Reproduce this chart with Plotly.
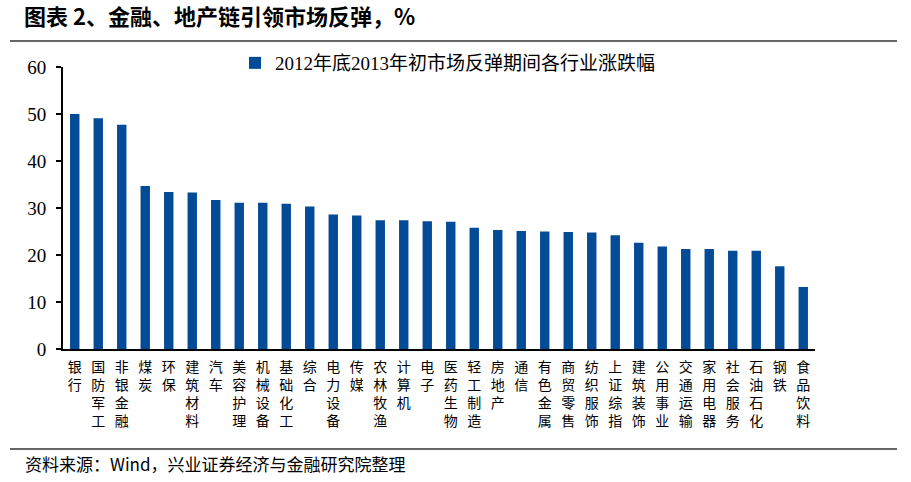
import plotly.graph_objects as go

categories = ["银行", "国防军工", "非银金融", "煤炭", "环保", "建筑材料", "汽车", "美容护理",
              "机械设备", "基础化工", "综合", "电力设备", "传媒", "农林牧渔", "计算机", "电子",
              "医药生物", "轻工制造", "房地产", "通信", "有色金属", "商贸零售", "纺织服饰", "上证综指",
              "建筑装饰", "公用事业", "交通运输", "家用电器", "社会服务", "石油石化", "钢铁", "食品饮料"]
values = [50.0, 49.1, 47.7, 34.7, 33.4, 33.3, 31.7, 31.1,
          31.1, 30.9, 30.3, 28.6, 28.4, 27.4, 27.4, 27.2,
          27.1, 25.8, 25.3, 25.1, 25.0, 24.9, 24.8, 24.2,
          22.6, 21.8, 21.3, 21.3, 20.9, 20.9, 17.6, 13.2]
series_name = "2012年底2013年初市场反弹期间各行业涨跌幅"
y_ticks = [0, 10, 20, 30, 40, 50, 60]
title_text = "<b>图表 2、金融、地产链引领市场反弹，%</b>"
source_text = "资料来源：Wind，兴业证券经济与金融研究院整理"

tick_text = ["<br>".join(list(c)) for c in categories]

W, H = 911, 482
# plot area in page pixel coordinates
L, R, T, B = 63, 815, 67, 349
pw, ph = R - L, B - T


def px(x):
    return (x - L) / pw


def py(y):
    return (B - y) / ph


fig = go.Figure()
fig.add_trace(go.Bar(
    x=categories, y=values, name=series_name,
    marker=dict(color="#034B96", line=dict(width=0)),
    showlegend=True,
))

serif = "Liberation Serif, Noto Sans CJK SC, serif"
cjk = "Noto Sans CJK SC, sans-serif"

fig.update_layout(
    width=W, height=H,
    margin=dict(l=L, r=W - R, t=T, b=H - B, pad=0),
    paper_bgcolor="white", plot_bgcolor="white",
    bargap=0.6,
    showlegend=True,
    legend=dict(x=px(235), y=py(44), xanchor="left", yanchor="top",
                font=dict(family=serif, size=19, color="black"),
                bgcolor="rgba(0,0,0,0)", itemwidth=30),
    title=dict(text=title_text, x=24 / W, xanchor="left", xref="container",
               y=1 - 17 / H, yanchor="middle", yref="container",
               font=dict(family=cjk, size=22, color="black")),
    xaxis=dict(
        tickmode="array", tickvals=categories, ticktext=tick_text,
        tickangle=0, showgrid=False, zeroline=False,
        showline=True, linecolor="black", linewidth=2,
        ticks="", tickfont=dict(family=cjk, size=14, color="black"),
        ticklabelstandoff=4,
    ),
    yaxis=dict(
        range=[0, 60], tickvals=y_ticks, showgrid=False, zeroline=False,
        showline=True, linecolor="black", linewidth=2,
        ticks="outside", ticklen=5, tickwidth=2, tickcolor="black",
        tickfont=dict(family=serif, size=19, color="black"),
        ticklabelstandoff=6,
    ),
    shapes=[
        dict(type="line", xref="paper", yref="paper", x0=px(10), x1=px(897),
             y0=py(41), y1=py(41), line=dict(color="#333333", width=1.5)),
        dict(type="line", xref="paper", yref="paper", x0=px(10), x1=px(897),
             y0=py(449), y1=py(449), line=dict(color="#333333", width=1.5)),
    ],
    annotations=[
        dict(text=source_text, xref="paper", yref="paper", x=px(23), y=py(463),
             xanchor="left", yanchor="middle", showarrow=False,
             font=dict(family=cjk, size=17, color="black")),
    ],
)

fig.write_html("out.html",
               config={"displayModeBar": False},
               post_script="document.body.style.margin='0';document.body.style.overflow='hidden';")
